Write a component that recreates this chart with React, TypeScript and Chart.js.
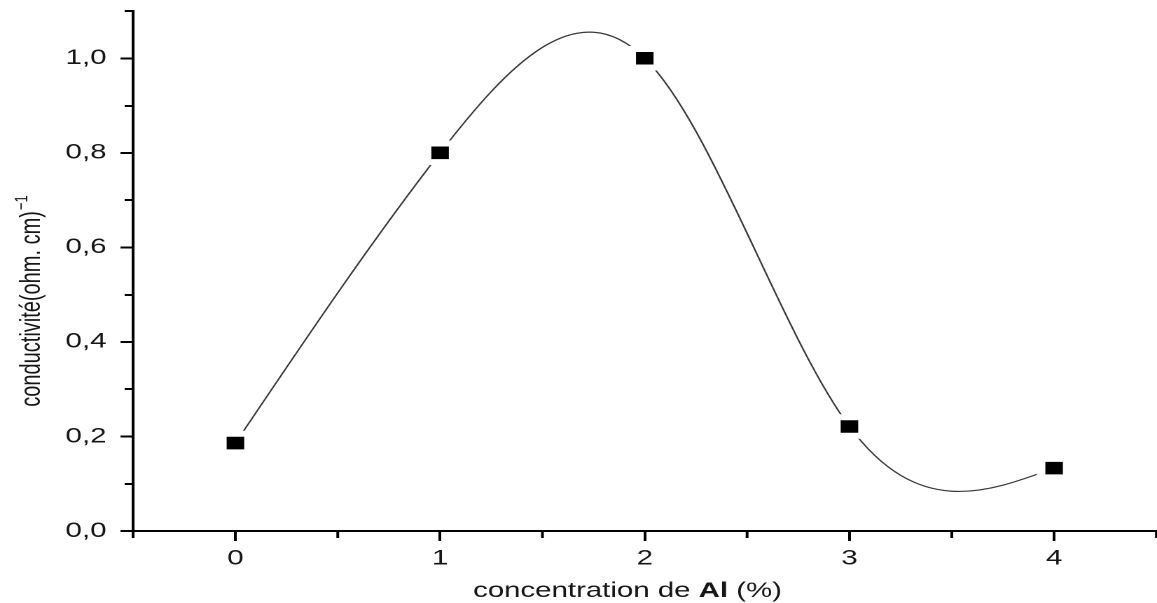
import React, { useEffect, useRef } from 'react';
import { Chart, registerables } from 'chart.js';

Chart.register(...registerables);

// ---- data ----
const concentrations = [0, 1, 2, 3, 4];
const conductivity = [0.186, 0.8, 1.0, 0.221, 0.133];
const xTickLabels = ['0', '1', '2', '3', '4'];
const yTickLabels = ['0,0', '0,2', '0,4', '0,6', '0,8', '1,0'];
const xTitleParts = ['concentration de ', 'Al', ' (%)'];
const yTitleMain = 'conductivité(ohm. cm)';
const yTitleSup = '−1';

// ---- layout (the original figure is horizontally stretched) ----
const CSS_W = 1157;
const CSS_H = 603;
const LOGICAL_W = 826;
const FONT = "'Liberation Sans', Arial, Helvetica, sans-serif";
const TEXT = '#161616';

const isInt = (v: number) => Math.abs(v - Math.round(v)) < 1e-6;
const isEvenTenth = (v: number) => Math.round(v * 10) % 2 === 0;

// natural cubic spline through the data, applied as Bezier control points of the line element
const splinePlugin = {
  id: 'naturalSpline',
  beforeDatasetsDraw(chart: any) {
    const meta = chart.getDatasetMeta(0);
    const pts = meta.data;
    const xs = concentrations;
    const ys = conductivity;
    const n = xs.length;
    const h: number[] = [];
    for (let i = 0; i < n - 1; i++) h.push(xs[i + 1] - xs[i]);
    const M = new Array(n).fill(0);
    const a: number[] = [], b: number[] = [], c: number[] = [], d: number[] = [];
    for (let i = 1; i < n - 1; i++) {
      a.push(h[i - 1]);
      b.push(2 * (h[i - 1] + h[i]));
      c.push(h[i]);
      d.push(6 * ((ys[i + 1] - ys[i]) / h[i] - (ys[i] - ys[i - 1]) / h[i - 1]));
    }
    const m = b.length;
    for (let i = 1; i < m; i++) {
      const w = a[i] / b[i - 1];
      b[i] -= w * c[i - 1];
      d[i] -= w * d[i - 1];
    }
    const sol = new Array(m).fill(0);
    for (let i = m - 1; i >= 0; i--) {
      sol[i] = (d[i] - (i < m - 1 ? c[i] * sol[i + 1] : 0)) / b[i];
    }
    for (let i = 0; i < m; i++) M[i + 1] = sol[i];
    const der: number[] = [];
    for (let i = 0; i < n - 1; i++) {
      der.push((ys[i + 1] - ys[i]) / h[i] - (h[i] * (2 * M[i] + M[i + 1])) / 6);
    }
    der.push((ys[n - 1] - ys[n - 2]) / h[n - 2] + (h[n - 2] * (M[n - 2] + 2 * M[n - 1])) / 6);
    const xs_ = chart.scales.x;
    const ys_ = chart.scales.y;
    for (let i = 0; i < n; i++) {
      const p = pts[i];
      if (i > 0) {
        const hh = h[i - 1];
        p.cp1x = xs_.getPixelForValue(xs[i] - hh / 3);
        p.cp1y = ys_.getPixelForValue(ys[i] - (der[i] * hh) / 3);
      } else {
        p.cp1x = p.x; p.cp1y = p.y;
      }
      if (i < n - 1) {
        const hh = h[i];
        p.cp2x = xs_.getPixelForValue(xs[i] + hh / 3);
        p.cp2y = ys_.getPixelForValue(ys[i] + (der[i] * hh) / 3);
      } else {
        p.cp2x = p.x; p.cp2y = p.y;
      }
    }
    if (meta.dataset) {
      meta.dataset._pointsUpdated = true;
      delete meta.dataset._path;
    }
  },
};

// minor ticks + axis titles
const decorPlugin = {
  id: 'decor',
  afterDraw(chart: any) {
    const ctx = chart.ctx;
    const x = chart.scales.x;
    const y = chart.scales.y;
    ctx.save();
    ctx.strokeStyle = '#000';
    ctx.lineWidth = 2;
    ctx.lineCap = 'butt';
    x.ticks.forEach((t: any) => {
      if (isInt(t.value)) return;
      const px = x.getPixelForValue(t.value);
      ctx.beginPath();
      ctx.moveTo(px, x.top);
      ctx.lineTo(px, x.top + 7);
      ctx.stroke();
    });
    y.ticks.forEach((t: any) => {
      if (isEvenTenth(t.value)) return;
      const py = Math.round(y.getPixelForValue(t.value));
      ctx.beginPath();
      ctx.moveTo(y.right, py);
      ctx.lineTo(y.right - 6, py);
      ctx.stroke();
    });

    ctx.fillStyle = TEXT;
    ctx.textBaseline = 'alphabetic';
    ctx.textAlign = 'left';
    // x title with bold "Al"
    const fonts = [`21px ${FONT}`, `bold 21px ${FONT}`, `21px ${FONT}`];
    const widths = xTitleParts.map((s, i) => {
      ctx.font = fonts[i];
      return ctx.measureText(s).width;
    });
    const total = widths.reduce((p, q) => p + q, 0);
    let cx = 448 - total / 2;
    xTitleParts.forEach((s, i) => {
      ctx.font = fonts[i];
      ctx.fillText(s, cx, 597);
      cx += widths[i];
    });

    // y title, rotated, with superscript
    ctx.save();
    ctx.translate(28.6, 301);
    ctx.rotate(-Math.PI / 2);
    ctx.font = `20px ${FONT}`;
    const w1 = ctx.measureText(yTitleMain).width;
    ctx.font = `13px ${FONT}`;
    const w2 = ctx.measureText(yTitleSup).width;
    const start = -(w1 + w2 + 1) / 2;
    ctx.font = `20px ${FONT}`;
    ctx.fillText(yTitleMain, start, 0);
    ctx.font = `13px ${FONT}`;
    ctx.fillText(yTitleSup, start + w1 + 1, -9);
    ctx.restore();
    ctx.restore();
  },
};

export default function App() {
  const ref = useRef<HTMLCanvasElement | null>(null);

  useEffect(() => {
    const canvas = ref.current;
    if (!canvas) return;
    const chart = new Chart(canvas, {
      type: 'line',
      data: {
        datasets: [
          {
            data: concentrations.map((c, i) => ({ x: c, y: conductivity[i] })),
            borderColor: '#383838',
            borderWidth: 1.2,
            tension: 0.4,
            fill: false,
            pointStyle: 'rect',
            pointRadius: 13.1,
            pointBorderWidth: 6,
            pointBackgroundColor: '#000',
            pointBorderColor: '#fff',
            pointHoverRadius: 13.1,
            clip: false,
          } as any,
        ],
      },
      options: {
        responsive: false,
        maintainAspectRatio: false,
        animation: false,
        devicePixelRatio: 2,
        events: [],
        layout: { autoPadding: false, padding: { top: 11, right: 0.4, left: 0, bottom: 0 } },
        plugins: {
          legend: { display: false },
          tooltip: { enabled: false },
        },
        scales: {
          x: {
            type: 'linear',
            min: -0.5,
            max: 4.5,
            ticks: {
              stepSize: 0.5,
              autoSkip: false,
              maxRotation: 0,
              padding: 5,
              color: TEXT,
              font: { family: FONT, size: 21 },
              callback: (v: any) => (isInt(Number(v)) ? xTickLabels[Math.round(Number(v))] ?? '' : ''),
            },
            grid: {
              drawOnChartArea: false,
              tickLength: 10,
              tickWidth: 2,
              tickColor: (c: any) => (c.tick && isInt(c.tick.value) ? '#000' : 'rgba(0,0,0,0)'),
            },
            border: { color: '#000', width: 2 },
            afterFit: (s: any) => {
              s.height = CSS_H - 531;
              s.paddingLeft = 0;
              s.paddingRight = 0;
            },
          },
          y: {
            type: 'linear',
            min: 0,
            max: 1.1,
            ticks: {
              stepSize: 0.1,
              autoSkip: false,
              padding: 10,
              color: TEXT,
              font: { family: FONT, size: 21 },
              callback: (v: any) => {
                const k = Math.round(Number(v) * 10);
                return k % 2 === 0 ? yTickLabels[k / 2] ?? '' : '';
              },
            },
            grid: {
              drawOnChartArea: false,
              tickLength: 9,
              tickWidth: 2,
              tickColor: (c: any) => (c.tick && isEvenTenth(c.tick.value) ? '#000' : 'rgba(0,0,0,0)'),
            },
            border: { color: '#000', width: 2 },
            afterFit: (s: any) => {
              s.width = 95;
              s.paddingTop = 0;
              s.paddingBottom = 0;
            },
          },
        },
      },
      plugins: [splinePlugin, decorPlugin],
    });
    return () => chart.destroy();
  }, []);

  return (
    <div style={{ position: 'absolute', left: 0, top: 0, width: CSS_W, height: CSS_H, background: '#fff' }}>
      <canvas
        ref={ref}
        width={LOGICAL_W}
        height={CSS_H}
        style={{ width: `${CSS_W}px`, height: `${CSS_H}px`, display: 'block' }}
      />
    </div>
  );
}
